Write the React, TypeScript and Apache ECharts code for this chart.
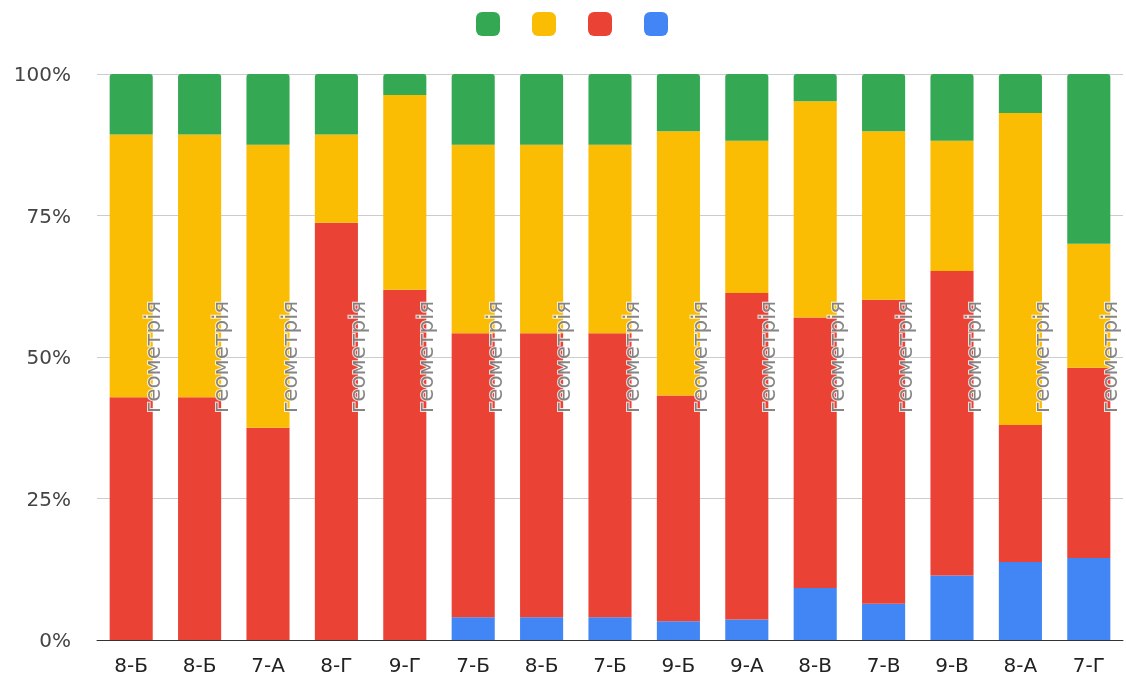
import React, { useEffect, useRef } from "react";
import * as echarts from "echarts";

const categories = ["8-Б", "8-Б", "7-А", "8-Г", "9-Г", "7-Б", "8-Б", "7-Б", "9-Б", "9-А", "8-В", "7-В", "9-В", "8-А", "7-Г"];
const blueValues = [0, 0, 0, 0, 0, 4.0, 4.0, 4.0, 3.3, 3.6, 9.2, 6.4, 11.4, 13.8, 14.5];
const redValues = [42.9, 42.9, 37.5, 73.7, 61.9, 50.2, 50.2, 50.2, 39.9, 57.7, 47.8, 53.7, 53.8, 24.2, 33.6];
const yellowValues = [46.4, 46.4, 50.0, 15.6, 34.4, 33.3, 33.3, 33.3, 46.7, 26.9, 38.2, 29.8, 23.0, 55.1, 21.9];
const greenValues = [10.7, 10.7, 12.5, 10.7, 3.7, 12.5, 12.5, 12.5, 10.1, 11.8, 4.8, 10.1, 11.8, 6.9, 30.0];
const yTicks = [0, 25, 50, 75, 100];
const annotationText = "геометрія";
const annotationLevel = categories.map(() => 50);

const FONT = "DejaVu Sans";

export default function App() {
  const ref = useRef<HTMLDivElement>(null);
  useEffect(() => {
    if (!ref.current) return;
    const chart = echarts.init(ref.current, null, { renderer: "svg" });
    const barCommon = { type: "bar", stack: "total", barWidth: "63%" };
    chart.setOption({
      animation: false,
      legend: {
        top: 7,
        left: 471,
        itemWidth: 24,
        itemHeight: 24,
        itemGap: 32,
        icon: "roundRect",
        data: ["5", "4", "3", "2"],
        formatter: () => "",
        selectedMode: false,
      },
      grid: { left: 97, right: 3, top: 74, bottom: 42 },
      xAxis: {
        type: "category",
        data: categories,
        axisLine: { lineStyle: { color: "#333", width: 1 } },
        axisTick: { show: false },
        axisLabel: { fontFamily: FONT, fontSize: 20, color: "#222", margin: 15 },
      },
      yAxis: {
        type: "value",
        min: yTicks[0],
        max: yTicks[yTicks.length - 1],
        interval: 25,
        axisLine: { show: false },
        axisTick: { show: false },
        splitLine: { lineStyle: { color: "#cccccc" } },
        axisLabel: { fontFamily: FONT, fontSize: 20, color: "#444", margin: 26, formatter: "{value}%" },
      },
      series: [
        { ...barCommon, name: "2", data: blueValues, itemStyle: { color: "#4285f4" } },
        { ...barCommon, name: "3", data: redValues, itemStyle: { color: "#ea4335" } },
        { ...barCommon, name: "4", data: yellowValues, itemStyle: { color: "#fbbc04" } },
        { ...barCommon, name: "5", data: greenValues, itemStyle: { color: "#34a853", borderRadius: [3, 3, 0, 0] } },
        {
          type: "scatter",
          name: "annotation",
          data: annotationLevel,
          symbolSize: 0,
          silent: true,
          z: 10,
          label: {
            show: true,
            formatter: () => annotationText,
            position: "inside",
            rotate: 90,
            offset: [0, 21],
            fontFamily: FONT,
            fontSize: 21.5,
            color: "#666",
            textBorderColor: "#fff",
            textBorderWidth: 2,
            align: "center",
            verticalAlign: "middle",
          },
        },
      ],
    });
    return () => chart.dispose();
  }, []);
  return <div ref={ref} style={{ position: "fixed", left: 0, top: 0, width: 1126, height: 682 }} />;
}
